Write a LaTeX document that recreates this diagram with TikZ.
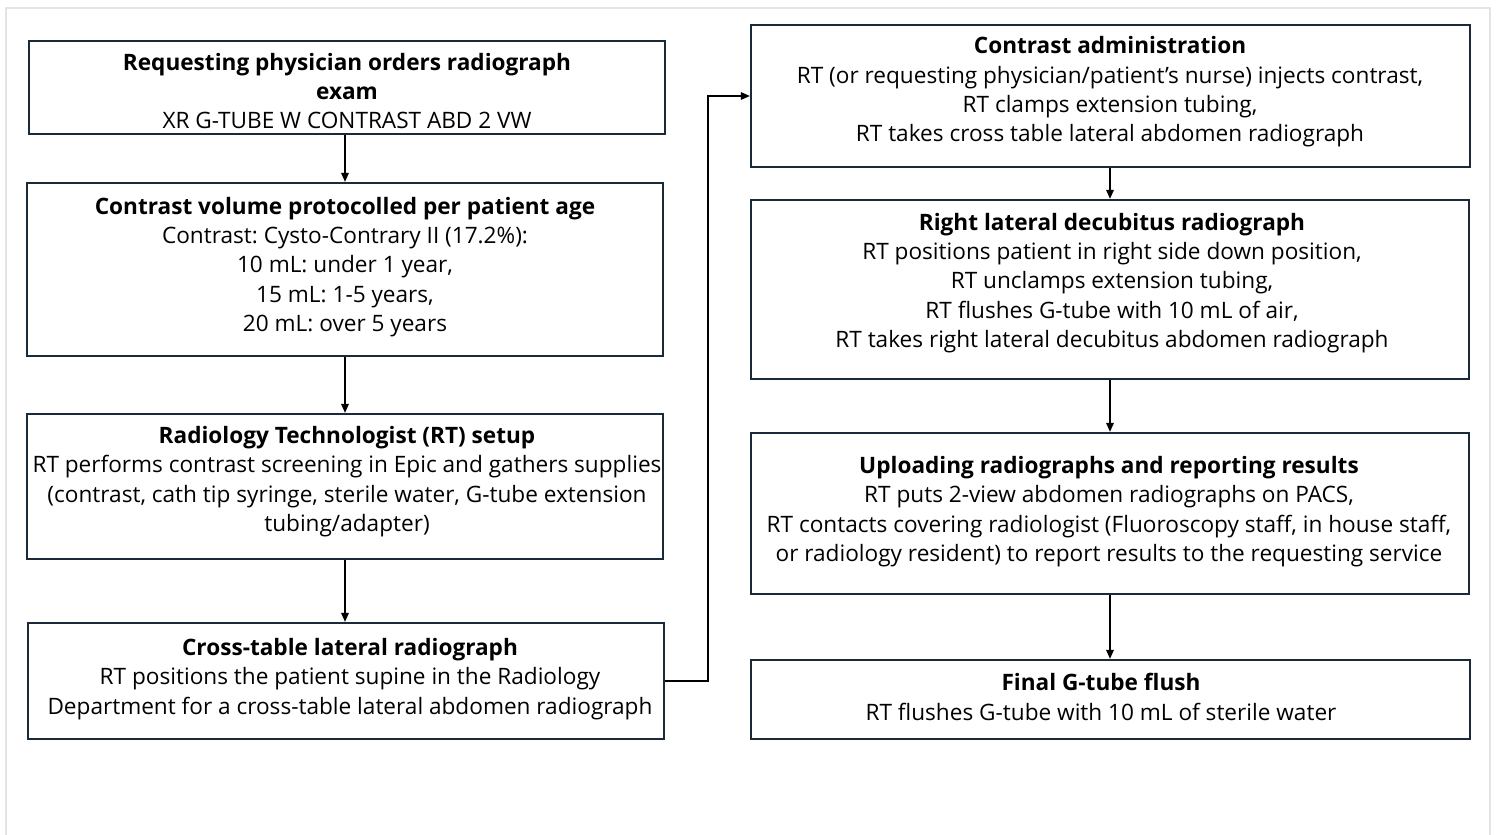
\documentclass[tikz,border=0pt]{standalone}
\usepackage{fontspec}
\setmainfont{Open Sans}
\usetikzlibrary{arrows.meta}
\frenchspacing
\definecolor{boxline}{HTML}{1B2A38}
\definecolor{frame}{HTML}{E4E4E4}
\tikzset{
  stepbox/.style={draw=boxline, line width=2.2pt, rectangle, inner sep=0pt},
  txt/.style={align=center, font=\fontsize{22.6}{29.3}\selectfont\frenchspacing, text=black, inner sep=0pt},
  conn/.style={draw=black, line width=1.6pt, -{Triangle[length=9pt,width=7.5pt]}},
}
\newcommand{\ttl}[1]{\textbf{#1}}
\begin{document}
\begin{tikzpicture}[x=1pt,y=-1pt]
\useasboundingbox (0,0) rectangle (1497,835);
\fill[white] (0,0) rectangle (1497,835);
\draw[frame, line width=1.2pt] (6,840) -- (6,8) -- (1490,8) -- (1490,840);
% left column boxes
\node[stepbox, minimum width=636pt, minimum height=93pt] (B1) at (347,87.5) {};
\node[stepbox, minimum width=636pt, minimum height=173pt] (B2) at (345,269.5) {};
\node[stepbox, minimum width=636pt, minimum height=145pt] (B3) at (345,486.5) {};
\node[stepbox, minimum width=636pt, minimum height=116pt] (B4) at (346,681) {};
% right column boxes
\node[stepbox, minimum width=719pt, minimum height=142pt] (R1) at (1110.5,96) {};
\node[stepbox, minimum width=718pt, minimum height=179pt] (R2) at (1110,289.5) {};
\node[stepbox, minimum width=718pt, minimum height=161pt] (R3) at (1110,513.5) {};
\node[stepbox, minimum width=719pt, minimum height=79pt] (R4) at (1110.5,699.5) {};
% texts
\node[txt] (T1) at (347,91) {\ttl{Requesting physician orders radiograph}\\ \ttl{exam}\\ XR G-TUBE W CONTRAST ABD 2 VW};
\node[txt] (T2) at (345,267) {\ttl{Contrast volume protocolled per patient age}\\ Contrast: Cysto-Contrary II (17.2\%):\\ 10 mL: under 1 year,\\ 15 mL: 1-5 years,\\ 20 mL: over 5 years};
\node[txt] (T3) at (347,481.5) {\ttl{Radiology Technologist (RT) setup}\\ RT performs contrast screening in Epic and gathers supplies\\ (contrast, cath tip syringe, sterile water, G-tube extension\\ tubing/adapter)};
\node[txt] (T4) at (350,679) {\ttl{Cross-table lateral radiograph}\\ RT positions the patient supine in the Radiology\\ Department for a cross-table lateral abdomen radiograph};
\node[txt] (T5) at (1110,92) {\ttl{Contrast administration}\\ RT (or requesting physician/patient’s nurse) injects contrast,\\ RT clamps extension tubing,\\ RT takes cross table lateral abdomen radiograph};
\node[txt] (T6) at (1112,283) {\ttl{Right lateral decubitus radiograph}\\ RT positions patient in right side down position,\\ RT unclamps extension tubing,\\ RT flushes G-tube with 10 mL of air,\\ RT takes right lateral decubitus abdomen radiograph};
\node[txt] (T7) at (1109,511.5) {\ttl{Uploading radiographs and reporting results}\\ RT puts 2-view abdomen radiographs on PACS,\\ RT contacts covering radiologist (Fluoroscopy staff, in house staff,\\ or radiology resident) to report results to the requesting service};
\node[txt] (T8) at (1101,697) {\ttl{Final G-tube flush}\\ RT flushes G-tube with 10 mL of sterile water};
% connectors
\draw[conn] (B1.south -| 345,0) -- (B2.north -| 345,0);
\draw[conn] (B2.south) -- (B3.north);
\draw[conn] (B3.south) -- (B4.north -| 345,0);
\draw[conn] (B4.east) -- (708,681) |- (R1.west);
\draw[conn] (R1.south -| 1110,0) -- (R2.north);
\draw[conn] (R2.south) -- (R3.north);
\draw[conn] (R3.south) -- (R4.north -| 1110,0);
\end{tikzpicture}
\end{document}
